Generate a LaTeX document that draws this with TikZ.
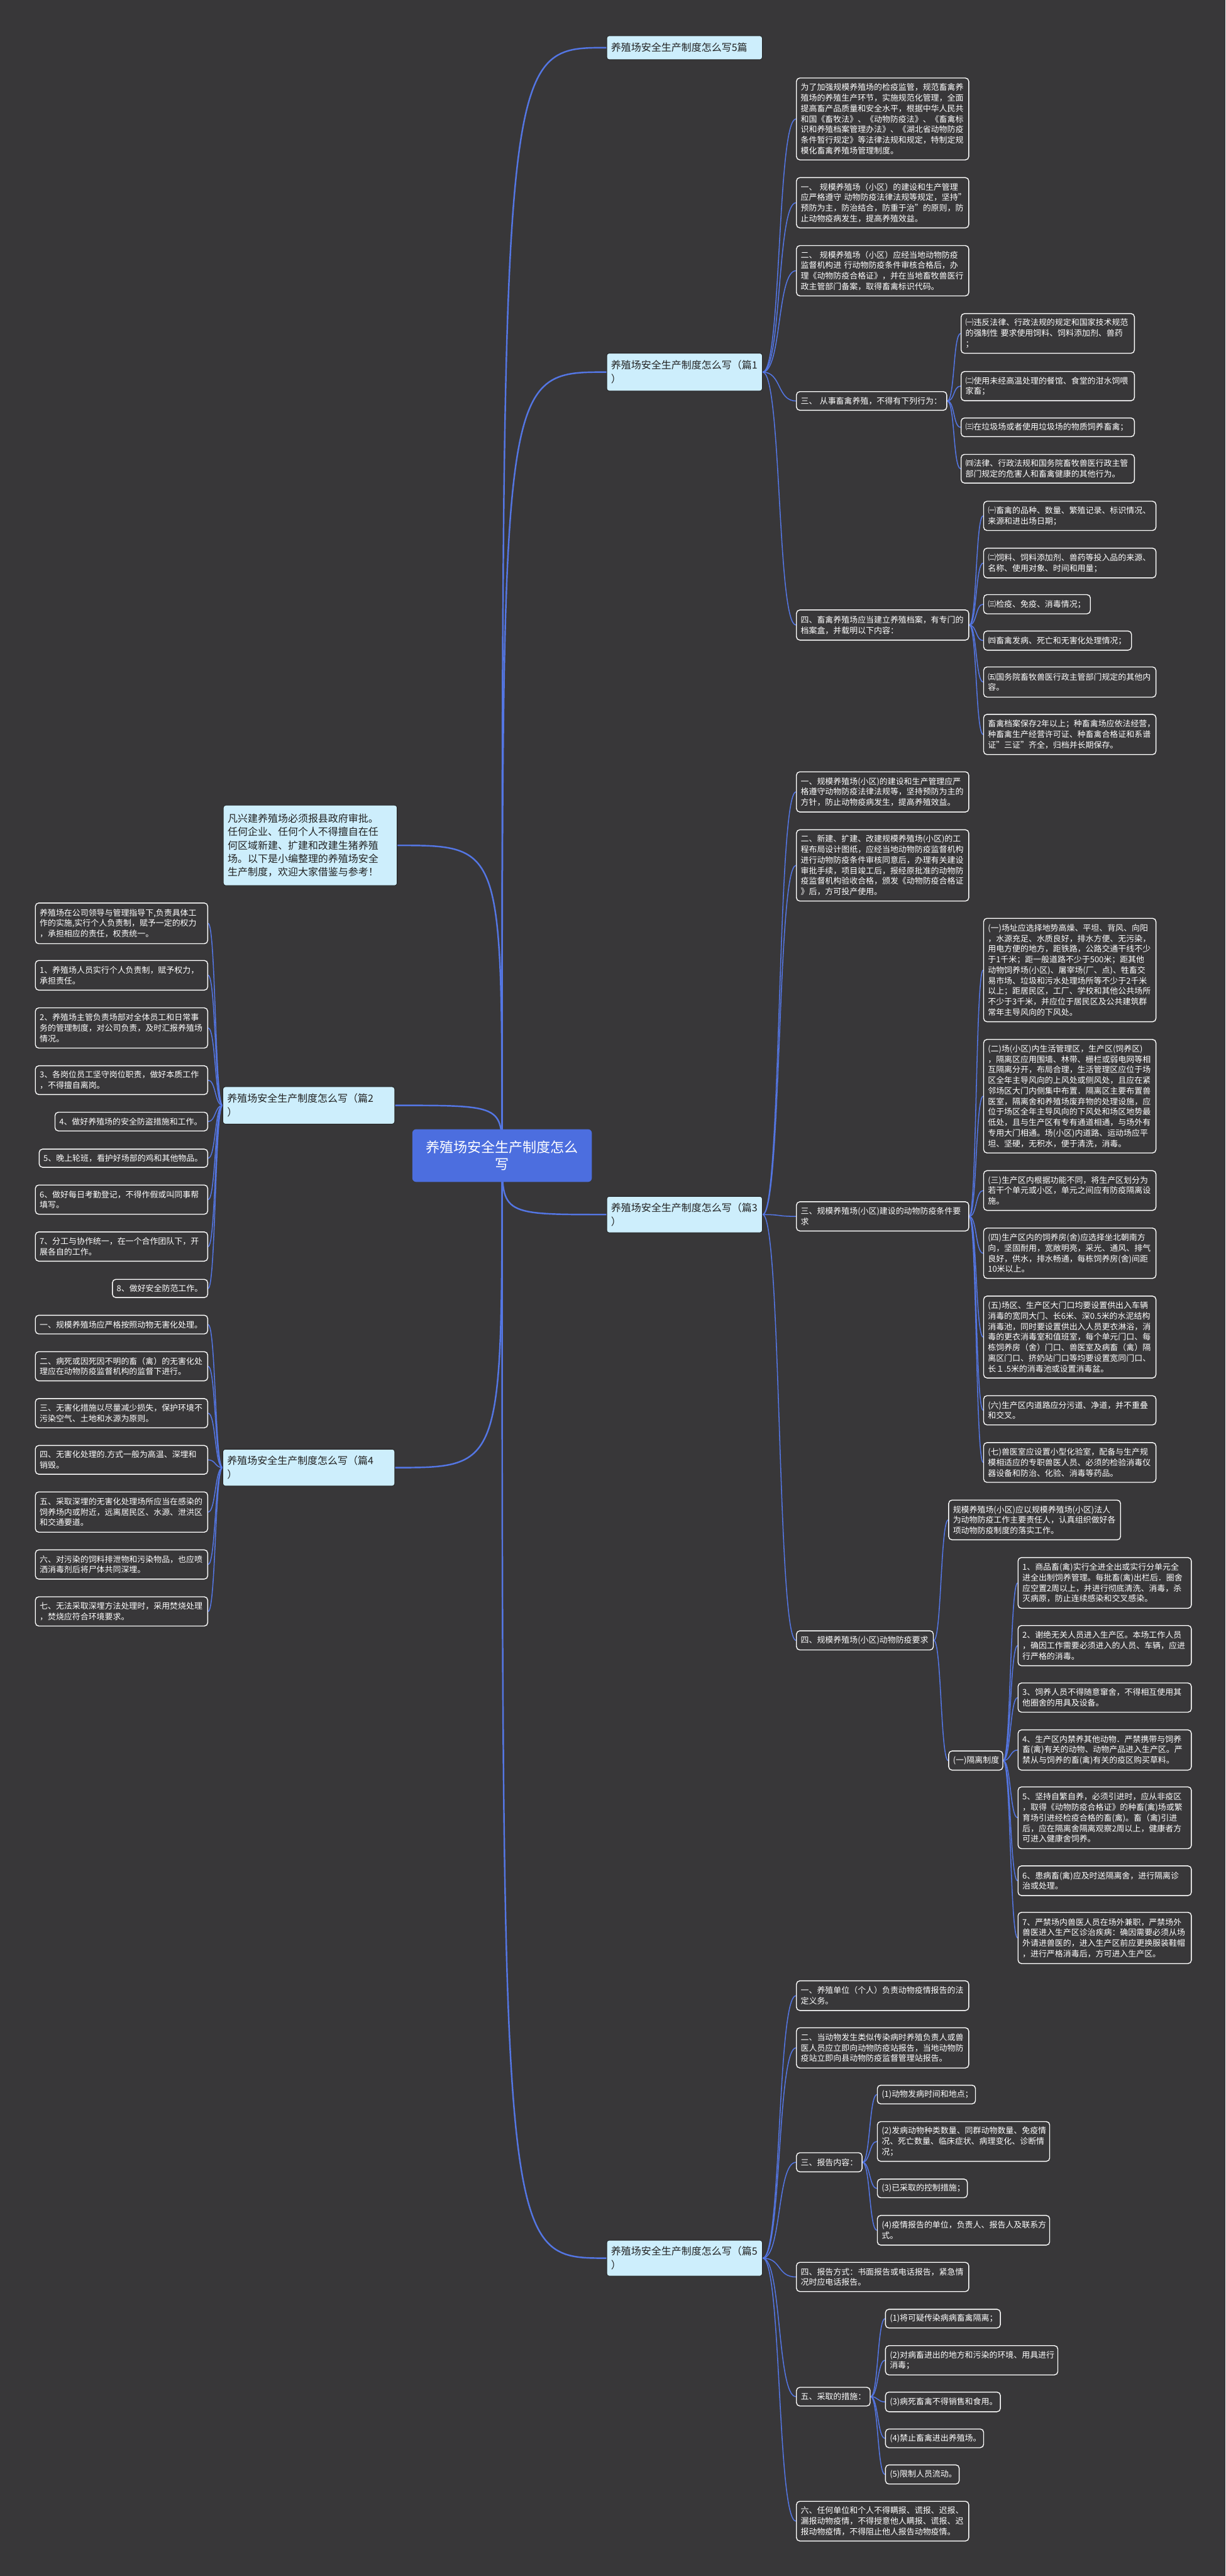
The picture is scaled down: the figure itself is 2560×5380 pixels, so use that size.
\documentclass[tikz,border=0pt]{standalone}
\usepackage{fontspec}
\setmainfont{Noto Sans CJK SC}
\usetikzlibrary{calc}
\definecolor{bgc}{RGB}{56,55,57}
\definecolor{lnc}{RGB}{84,118,228}
\definecolor{lbc}{RGB}{205,238,252}
\definecolor{rtc}{RGB}{76,110,223}
\definecolor{dkt}{RGB}{34,34,34}
\pgfdeclarelayer{back}
\pgfsetlayers{back,main}
\tikzset{
 cbox/.style={draw=white, line width=0.9pt, rounded corners=3.5pt, fill=bgc, text=white, font=\fontsize{8.5}{11}\selectfont, align=left, inner xsep=4.5pt, inner ysep=0pt, anchor=north west},
 pbox/.style={draw=dkt, line width=0.6pt, rounded corners=2.5pt, fill=lbc, text=dkt, font=\fontsize{10.5}{14.5}\selectfont, align=left, inner xsep=4.5pt, inner ysep=0pt, anchor=north west},
 ibox/.style={pbox, font=\fontsize{10.5}{14}\selectfont},
 rbox/.style={fill=rtc, rounded corners=4pt, text=white, font=\fontsize{14.5}{18}\selectfont, align=center, inner xsep=4.5pt, inner ysep=0pt, anchor=north west},
 lnk/.style={draw=lnc, line width=1pt},
 mlnk/.style={draw=lnc, line width=1.6pt},
}
\newcommand{\mbx}[7][cbox]{%
 \pgfmathsetmacro{\mytw}{(#5-18)*0.5}%
 \pgfmathsetmacro{\mymw}{#5*0.5}%
 \pgfmathsetmacro{\mymh}{#6*0.5}%
 \node[#1, text width=\mytw pt, minimum width=\mymw pt, minimum height=\mymh pt] (#2) at (#3,#4) {#7};}
\newcommand{\myrc}[3]{\draw[lnk] (#1.east) .. controls ([xshift=#3]#1.east) and ([xshift=-#3]#2.west) .. (#2.west);}
\newcommand{\mylc}[3]{\draw[lnk] (#1.west) .. controls ([xshift=-#3]#1.west) and ([xshift=#3]#2.east) .. (#2.east);}
\newcommand{\myroot}[2]{\draw[mlnk] (root.center) .. controls (root.center |- #1.#2) .. (#1.#2);}
\begin{document}
\begin{tikzpicture}[x=0.5pt,y=-0.5pt]
\useasboundingbox (0,0) rectangle (2560,5380);
% root and branches
\mbx[rbox]{root}{861}{2358}{375}{110}{养殖场安全生产制度怎么\\写}
\mbx[ibox]{intro}{466}{1681}{363}{168}{凡兴建养殖场必须报县政府审批。\\任何企业、任何个人不得擅自在任\\何区域新建、扩建和改建生猪养殖\\场。以下是小编整理的养殖场安全\\生产制度，欢迎大家借鉴与参考！}
\mbx[pbox]{t5}{1267}{74}{325}{50}{养殖场安全生产制度怎么写5篇}
\mbx[pbox]{pA}{1267}{737}{325}{79}{养殖场安全生产制度怎么写（篇1\\）}
\mbx[pbox]{pC}{1267}{2498}{325}{76}{养殖场安全生产制度怎么写（篇3\\）}
\mbx[pbox]{pE}{1267}{4678}{325}{75}{养殖场安全生产制度怎么写（篇5\\）}
\mbx[pbox]{pB}{465}{2269}{359}{78}{养殖场安全生产制度怎么写（篇2\\）}
\mbx[pbox]{pD}{465}{3026}{359}{77}{养殖场安全生产制度怎么写（篇4\\）}
% ---- pian 1
\mbx{a1}{1663}{162}{360}{171}{为了加强规模养殖场的检疫监管，规范畜禽养\\殖场的养殖生产环节，实施规范化管理，全面\\提高畜产品质量和安全水平，根据中华人民共\\和国《畜牧法》、《动物防疫法》、《畜禽标\\识和养殖档案管理办法》、《湖北省动物防疫\\条件暂行规定》等法律法规和规定，特制定规\\模化畜禽养殖场管理制度。}
\mbx{a2}{1663}{370}{360}{105}{一、~规模养殖场（小区）的建设和生产管理\\应严格遵守~动物防疫法律法规等规定，坚持"\\预防为主，防治结合，防重于治"的原则，防\\止动物疫病发生，提高养殖效益。}
\mbx{a3}{1663}{512}{360}{105}{二、~规模养殖场（小区）应经当地动物防疫\\监督机构进~行动物防疫条件审核合格后，办\\理《动物防疫合格证》，并在当地畜牧兽医行\\政主管部门备案，取得畜禽标识代码。}
\mbx{a4}{1663}{817}{314}{39}{三、~从事畜禽养殖，不得有下列行为：}
\mbx{a41}{2007}{654}{362}{83}{㈠违反法律、行政法规的规定和国家技术规范\\的强制性~要求使用饲料、饲料添加剂、兽药\\；}
\mbx{a42}{2007}{775}{362}{61}{㈡使用未经高温处理的餐馆、食堂的泔水饲喂\\家畜；}
\mbx{a43}{2007}{872}{362}{39}{㈢在垃圾场或者使用垃圾场的物质饲养畜禽；}
\mbx{a44}{2007}{948}{362}{60}{㈣法律、行政法规和国务院畜牧兽医行政主管\\部门规定的危害人和畜禽健康的其他行为。}
\mbx{a5}{1663}{1273}{360}{63}{四、畜禽养殖场应当建立养殖档案，有专门的\\档案盒，并载明以下内容：}
\mbx{a51}{2054}{1046}{360}{61}{㈠畜禽的品种、数量、繁殖记录、标识情况、\\来源和进出场日期；}
\mbx{a52}{2054}{1144}{360}{62}{㈡饲料、饲料添加剂、兽药等投入品的来源、\\名称、使用对象、时间和用量；}
\mbx{a53}{2054}{1241}{223}{40}{㈢检疫、免疫、消毒情况；}
\mbx{a54}{2054}{1317}{309}{40}{㈣畜禽发病、死亡和无害化处理情况；}
\mbx{a55}{2054}{1392}{360}{63}{㈤国务院畜牧兽医行政主管部门规定的其他内\\容。}
\mbx{a56}{2054}{1491}{360}{84}{畜禽档案保存2年以上；种畜禽场应依法经营，\\种畜禽生产经营许可证、种畜禽合格证和系谱\\证"三证"齐全，归档并长期保存。}
% ---- pian 3
\mbx{c1}{1663}{1611}{360}{84}{一、规模养殖场(小区)的建设和生产管理应严\\格遵守动物防疫法律法规等，坚持预防为主的\\方针，防止动物疫病发生，提高养殖效益。}
\mbx{c2}{1663}{1732}{360}{149}{二、新建、扩建、改建规模养殖场(小区)的工\\程布局设计图纸，应经当地动物防疫监督机构\\进行动物防疫条件审核同意后，办理有关建设\\审批手续，项目竣工后，报经原批准的动物防\\疫监督机构验收合格，颁发《动物防疫合格证\\》后，方可投产使用。}
\mbx{c3}{1663}{2509}{360}{61}{三、规模养殖场(小区)建设的动物防疫条件要\\求}
\mbx{c31}{2054}{1917}{360}{216}{(一)场址应选择地势高燥、平坦、背风、向阳\\，水源充足、水质良好，排水方便、无污染，\\用电方便的地方，距铁路，公路交通干线不少\\于1千米；距一般道路不少于500米；距其他\\动物饲养场(小区)、屠宰场(厂、点)、牲畜交\\易市场、垃圾和污水处理场所等不少于2千米\\以上；距居民区，工厂、学校和其他公共场所\\不少于3千米，并应位于居民区及公共建筑群\\常年主导风向的下风处。}
\mbx{c32}{2054}{2170}{360}{237}{(二)场(小区)内生活管理区，生产区(饲养区)\\，隔离区应用围墙、林带、栅栏或弱电网等相\\互隔离分开，布局合理，生活管理区应位于场\\区全年主导风向的上风处或侧风处，且应在紧\\邻场区大门内侧集中布置．隔离区主要布置兽\\医室，隔离舍和养殖场废弃物的处理设施，应\\位于场区全年主导风向的下风处和场区地势最\\低处，且与生产区有专有通道相通，与场外有\\专用大门相通。场(小区)内道路、运动场应平\\坦、坚硬，无积水，便于清洗，消毒。}
\mbx{c33}{2054}{2444}{360}{83}{(三)生产区内根据功能不同，将生产区划分为\\若干个单元或小区，单元之间应有防疫隔离设\\施。}
\mbx{c34}{2054}{2564}{360}{105}{(四)生产区内的饲养房(舍)应选择坐北朝南方\\向，坚固耐用，宽敞明亮，采光、通风、排气\\良好，供水，排水畅通，每栋饲养房(舍)间距\\10米以上。}
\mbx{c35}{2054}{2706}{360}{171}{(五)场区、生产区大门口均要设置供出入车辆\\消毒的宽同大门、长6米、深0.5米的水泥结构\\消毒池，同时要设置供出入人员更衣淋浴，消\\毒的更衣消毒室和值班室，每个单元门口、每\\栋饲养房（舍）门口、兽医室及病畜（禽）隔\\离区门口、挤奶站门口等均要设置宽同门口、\\长１.5米的消毒池或设置消毒盆。}
\mbx{c36}{2054}{2914}{360}{61}{(六)生产区内道路应分污道、净道，并不重叠\\和交叉。}
\mbx{c37}{2054}{3012}{360}{83}{(七)兽医室应设置小型化验室，配备与生产规\\模相适应的专职兽医人员、必须的检验消毒仪\\器设备和防治、化验、消毒等药品。}
\mbx{c4}{1663}{3405}{286}{40}{四、规模养殖场(小区)动物防疫要求}
\mbx{c41}{1981}{3132}{359}{83}{规模养殖场(小区)应以规模养殖场(小区)法人\\为动物防疫工作主要责任人，认真组织做好各\\项动物防疫制度的落实工作。}
\mbx{c42}{1981}{3656}{113}{40}{(一)隔离制度}
\mbx{g1}{2126}{3252}{362}{106}{1、商品畜(禽)实行全进全出或实行分单元全\\进全出制饲养管理。每批畜(禽)出栏后．圈舍\\应空置2周以上，并进行彻底清洗、消毒，杀\\灭病原，防止连续感染和交叉感染。}
\mbx{g2}{2126}{3394}{362}{84}{2、谢绝无关人员进入生产区。本场工作人员\\，确因工作需要必须进入的人员、车辆，应进\\行严格的消毒。}
\mbx{g3}{2126}{3514}{362}{61}{3、饲养人员不得随意窜舍，不得相互使用其\\他圈舍的用具及设备。}
\mbx{g4}{2126}{3612}{362}{84}{4、生产区内禁养其他动物．严禁携带与饲养\\畜(禽)有关的动物、动物产品进入生产区。严\\禁从与饲养的畜(禽)有关的疫区购买草料。}
\mbx{g5}{2126}{3731}{362}{129}{5、坚持自繁自养，必须引进时，应从非疫区\\，取得《动物防疫合格证》的种畜(禽)场或繁\\育场引进经检疫合格的畜(禽)。畜（禽)引进\\后，应在隔离舍隔离观察2周以上，健康者方\\可进入健康舍饲养。}
\mbx{g6}{2126}{3896}{362}{62}{6、患病畜(禽)应及时送隔离舍，进行隔离诊\\治或处理。}
\mbx{g7}{2126}{3993}{362}{107}{7、严禁场内兽医人员在场外兼职，严禁场外\\兽医进入生产区诊治疾病：确因需要必须从场\\外请进兽医的，进入生产区前应更换服装鞋帽\\，进行严格消毒后，方可进入生产区。}
% ---- pian 5
\mbx{e1}{1663}{4136}{360}{62}{一、养殖单位（个人）负责动物疫情报告的法\\定义务。}
\mbx{e2}{1663}{4234}{360}{84}{二、当动物发生类似传染病时养殖负责人或兽\\医人员应立即向动物防疫站报告，当地动物防\\疫站立即向县动物防疫监督管理站报告。}
\mbx{e3}{1663}{4495}{137}{40}{三、报告内容：}
\mbx{e31}{1832}{4354}{205}{39}{(1)动物发病时间和地点；}
\mbx{e32}{1832}{4430}{360}{83}{(2)发病动物种类数量、同群动物数量、免疫情\\况、死亡数量、临床症状、病理变化、诊断情\\况；}
\mbx{e33}{1832}{4550}{188}{39}{(3)已采取的控制措施；}
\mbx{e34}{1832}{4626}{360}{62}{(4)疫情报告的单位，负责人、报告人及联系方\\式。}
\mbx{e4}{1663}{4724}{360}{61}{四、报告方式：书面报告或电话报告，紧急情\\况时应电话报告。}
\mbx{e5}{1663}{4985}{154}{39}{五、采取的措施：}
\mbx{e51}{1849}{4822}{240}{39}{(1)将可疑传染病病畜禽隔离；}
\mbx{e52}{1849}{4898}{360}{61}{(2)对病畜进出的地方和污染的环境、用具进行\\消毒；}
\mbx{e53}{1849}{4995}{240}{41}{(3)病死畜禽不得销售和食用。}
\mbx{e54}{1849}{5072}{205}{39}{(4)禁止畜禽进出养殖场。}
\mbx{e55}{1849}{5147}{154}{40}{(5)限制人员流动。}
\mbx{e6}{1663}{5223}{360}{83}{六、任何单位和个人不得瞒报、谎报、迟报、\\漏报动物疫情，不得授意他人瞒报、谎报、迟\\报动物疫情，不得阻止他人报告动物疫情。}
% ---- pian 2
\mbx{b0}{73}{1885}{360}{85}{养殖场在公司领导与管理指导下,负责具体工\\作的实施,实行个人负责制，赋予一定的权力\\，承担相应的责任，权责统一。}
\mbx{b1}{73}{2005}{360}{62}{1、养殖场人员实行个人负责制，赋予权力，\\承担责任。}
\mbx{b2}{73}{2104}{360}{84}{2、养殖场主管负责场部对全体员工和日常事\\务的管理制度，对公司负责，及时汇报养殖场\\情况。}
\mbx{b3}{73}{2225}{360}{60}{3、各岗位员工坚守岗位职责，做好本质工作\\，不得擅自离岗。}
\mbx{b4}{114}{2322}{319}{39}{4、做好养殖场的安全防盗措施和工作。}
\mbx{b5}{81}{2399}{352}{38}{5、晚上轮班，看护好场部的鸡和其他物品。}
\mbx{b6}{73}{2474}{360}{61}{6、做好每日考勤登记，不得作假或叫同事帮\\填写。}
\mbx{b7}{73}{2572}{360}{61}{7、分工与协作统一，在一个合作团队下，开\\展各自的工作。}
\mbx{b8}{234}{2671}{199}{38}{8、做好安全防范工作。}
% ---- pian 4
\mbx{d1}{73}{2746}{360}{39}{一、规模养殖场应严格按照动物无害化处理。}
\mbx{d2}{73}{2822}{360}{61}{二、病死或因死因不明的畜（禽）的无害化处\\理应在动物防疫监督机构的监督下进行。}
\mbx{d3}{73}{2920}{360}{61}{三、无害化措施以尽量减少损失，保护环境不\\污染空气、土地和水源为原则。}
\mbx{d4}{73}{3018}{360}{60}{四、无害化处理的.方式一般为高温、深埋和\\销毁。}
\mbx{d5}{73}{3115}{360}{84}{五、采取深埋的无害化处理场所应当在感染的\\饲养场内或附近，远离居民区、水源、泄洪区\\和交通要道。}
\mbx{d6}{73}{3236}{360}{61}{六、对污染的饲料排泄物和污染物品，也应喷\\洒消毒剂后将尸体共同深埋。}
\mbx{d7}{73}{3334}{360}{61}{七、无法采取深埋方法处理时，采用焚烧处理\\，焚烧应符合环境要求。}
% ---- connectors
\begin{pgfonlayer}{back}
\fill[bgc] (0,0) rectangle (2560,5380);
\myroot{t5}{west}
\myroot{pA}{west}
\myroot{pC}{west}
\myroot{pE}{west}
\myroot{intro}{east}
\myroot{pB}{east}
\myroot{pD}{east}
\foreach \q in {a1,a2,a3,a4,a5} {\myrc{pA}{\q}{20pt}}
\foreach \q in {a41,a42,a43,a44} {\myrc{a4}{\q}{8pt}}
\foreach \q in {a51,a52,a53,a54,a55,a56} {\myrc{a5}{\q}{8pt}}
\foreach \q in {c1,c2,c3,c4} {\myrc{pC}{\q}{20pt}}
\foreach \q in {c31,c32,c33,c34,c35,c36,c37} {\myrc{c3}{\q}{8pt}}
\foreach \q in {c41,c42} {\myrc{c4}{\q}{8pt}}
\foreach \q in {g1,g2,g3,g4,g5,g6,g7} {\myrc{c42}{\q}{8pt}}
\foreach \q in {e1,e2,e3,e4,e5,e6} {\myrc{pE}{\q}{20pt}}
\foreach \q in {e31,e32,e33,e34} {\myrc{e3}{\q}{8pt}}
\foreach \q in {e51,e52,e53,e54,e55} {\myrc{e5}{\q}{8pt}}
\foreach \q in {b0,b1,b2,b3,b4,b5,b6,b7,b8} {\mylc{pB}{\q}{8pt}}
\foreach \q in {d1,d2,d3,d4,d5,d6,d7} {\mylc{pD}{\q}{8pt}}
\end{pgfonlayer}
\end{tikzpicture}
\end{document}
